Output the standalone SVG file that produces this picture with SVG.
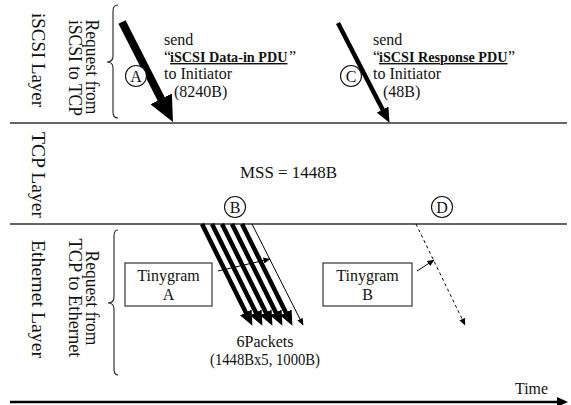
<svg xmlns="http://www.w3.org/2000/svg" width="571" height="405" viewBox="0 0 571 405">
<style>
text{font-family:"Liberation Serif","Times New Roman",serif;font-size:16px;fill:#111}
.lay{font-size:18px}
.b{font-weight:bold;text-decoration:underline;font-size:14.2px}
.sep{stroke:#333;stroke-width:1.3;fill:none}
.brace{stroke:#222;stroke-width:1.1;fill:none}
.circ{fill:#fff;stroke:#111;stroke-width:1.1}
.box{fill:#fff;stroke:#333;stroke-width:1.2}
.thick{stroke:#000;stroke-width:8;fill:none}
.med{stroke:#000;stroke-width:4.5;fill:none}
.thin{stroke:#000;stroke-width:1;fill:none}
.dash{stroke:#000;stroke-width:1;stroke-dasharray:3,3;fill:none}
</style>
<defs>
<marker id="mBig" markerUnits="userSpaceOnUse" markerWidth="26" markerHeight="24" refX="6" refY="12" orient="auto"><path d="M0,0 L26,12 L0,24 z" fill="#000"/></marker>
<marker id="mMed" markerUnits="userSpaceOnUse" markerWidth="15" markerHeight="13" refX="3" refY="6.5" orient="auto"><path d="M0,0 L15,6.5 L0,13 z" fill="#000"/></marker>
<marker id="mThin" markerUnits="userSpaceOnUse" markerWidth="7" markerHeight="6" refX="6.5" refY="3" orient="auto"><path d="M0,0 L7,3 L0,6 z" fill="#000"/></marker>
<marker id="mAxis" markerUnits="userSpaceOnUse" markerWidth="11" markerHeight="10" refX="0" refY="5" orient="auto"><path d="M0,0 L11,5 L0,10 z" fill="#000"/></marker>
</defs>

<g id="layers">
<line class="sep" x1="10" y1="123" x2="567" y2="123"/>
<line class="sep" x1="10" y1="224" x2="567" y2="224"/>
<text class="lay" transform="translate(32,60) rotate(90)" text-anchor="middle" textLength="94" lengthAdjust="spacingAndGlyphs">iSCSI Layer</text>
<text class="lay" transform="translate(32,175) rotate(90)" text-anchor="middle" textLength="86" lengthAdjust="spacingAndGlyphs">TCP Layer</text>
<text class="lay" transform="translate(32,299) rotate(90)" text-anchor="middle" textLength="118" lengthAdjust="spacingAndGlyphs">Ethernet Layer</text>
</g>

<g id="req-iscsi">
<text class="lay" transform="translate(86,67) rotate(90)" text-anchor="middle" textLength="95" lengthAdjust="spacingAndGlyphs">Request from</text>
<text class="lay" transform="translate(69,68) rotate(90)" text-anchor="middle" textLength="96" lengthAdjust="spacingAndGlyphs">iSCSI to TCP</text>
<path class="brace" d="M118,5 Q113,5 113,11 L113,56 Q113,62 107,62 Q113,62 113,68 L113,112 Q113,118 118,118"/>
</g>

<g id="req-tcp">
<text class="lay" transform="translate(86,298) rotate(90)" text-anchor="middle" textLength="95" lengthAdjust="spacingAndGlyphs">Request from</text>
<text class="lay" transform="translate(69,298) rotate(90)" text-anchor="middle" textLength="119" lengthAdjust="spacingAndGlyphs">TCP to Ethernet</text>
<path class="brace" d="M118,230 Q114,230 114,236 L114,297 Q114,303 108,303 Q114,303 114,309 L114,369 Q114,375 118,375"/>
</g>

<g id="send-data">
<text x="164" y="45">send</text>
<text x="164" y="62">“</text>
<text class="b" x="170" y="62">iSCSI Data-in PDU</text>
<text x="289" y="62">”</text>
<text x="164" y="79">to Initiator</text>
<text x="174" y="97">(8240B)</text>
</g>

<g id="send-resp">
<text x="373" y="45">send</text>
<text x="373" y="62">“</text>
<text class="b" x="379" y="62">iSCSI Response PDU</text>
<text x="508" y="62">”</text>
<text x="373" y="79">to Initiator</text>
<text x="383" y="97">(48B)</text>
</g>

<g id="mss"><text x="240" y="178" textLength="97" lengthAdjust="spacingAndGlyphs">MSS = 1448B</text></g>

<g id="connectors">
<line class="thick" x1="122" y1="22" x2="163.9" y2="104.2" marker-end="url(#mBig)"/>
<line class="med" x1="338" y1="23" x2="384" y2="112.2" marker-end="url(#mMed)"/>
<line class="med" x1="202" y1="224" x2="247.1" y2="315.1" marker-end="url(#mMed)"/>
<line class="med" x1="212" y1="224" x2="257.1" y2="315.1" marker-end="url(#mMed)"/>
<line class="med" x1="222" y1="224" x2="267.1" y2="315.1" marker-end="url(#mMed)"/>
<line class="med" x1="232" y1="224" x2="277.1" y2="315.1" marker-end="url(#mMed)"/>
<line class="med" x1="242" y1="224" x2="287.1" y2="315.1" marker-end="url(#mMed)"/>
<line class="thin" x1="252" y1="224" x2="303" y2="325" marker-end="url(#mThin)"/>
<line class="thin" x1="218" y1="271" x2="270" y2="259" marker-end="url(#mThin)"/>
<line class="dash" x1="416" y1="224" x2="465" y2="325" marker-end="url(#mThin)"/>
<line class="thin" x1="417" y1="271" x2="434" y2="260" marker-end="url(#mThin)"/>
<line x1="10" y1="402" x2="557" y2="402" stroke="#000" stroke-width="2.5" marker-end="url(#mAxis)"/>
</g>

<g id="circle-A"><circle class="circ" cx="136" cy="76" r="10.5"/><text x="136" y="81.5" text-anchor="middle">A</text></g>
<g id="circle-C"><circle class="circ" cx="351" cy="76" r="10.5"/><text x="351" y="81.5" text-anchor="middle">C</text></g>
<g id="circle-B"><circle class="circ" cx="235" cy="207" r="10.5"/><text x="235" y="212.5" text-anchor="middle">B</text></g>
<g id="circle-D"><circle class="circ" cx="442" cy="207" r="10.5"/><text x="442" y="212.5" text-anchor="middle">D</text></g>

<g id="tinygram-A">
<rect class="box" x="125" y="263" width="87" height="43"/>
<text x="168.5" y="281" text-anchor="middle">Tinygram</text>
<text x="168.5" y="300" text-anchor="middle">A</text>
</g>
<g id="tinygram-B">
<rect class="box" x="323" y="263" width="89" height="43"/>
<text x="367.5" y="281" text-anchor="middle">Tinygram</text>
<text x="367.5" y="300" text-anchor="middle">B</text>
</g>

<g id="packets-label">
<text x="265" y="347" text-anchor="middle">6Packets</text>
<text x="265" y="365" text-anchor="middle" textLength="110" lengthAdjust="spacingAndGlyphs">(1448Bx5, 1000B)</text>
</g>

<g id="time"><text x="515" y="394" textLength="33" lengthAdjust="spacingAndGlyphs">Time</text></g>
</svg>
